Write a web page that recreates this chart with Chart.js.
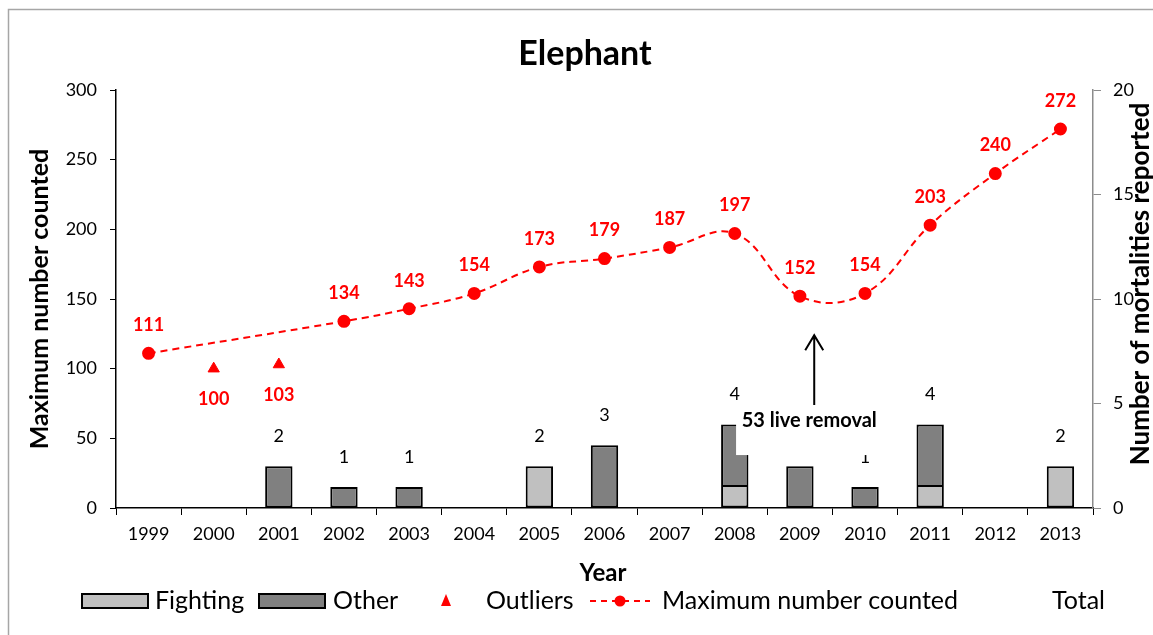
<!DOCTYPE html>
<html>
<head>
<meta charset="utf-8">
<title>Elephant</title>
<script src="https://cdn.jsdelivr.net/npm/chart.js@4.4.1/dist/chart.umd.min.js"></script>
<style>
  html, body { margin: 0; padding: 0; background: #ffffff; }
  #wrap { position: relative; width: 1153px; height: 635px; }
</style>
</head>
<body>
<div id="wrap"><canvas id="chart" width="1153" height="635"></canvas></div>
<script>
// ---- data ----
const years = ['1999','2000','2001','2002','2003','2004','2005','2006','2007','2008','2009','2010','2011','2012','2013'];
const maxCounted = [111, null, null, 134, 143, 154, 173, 179, 187, 197, 152, 154, 203, 240, 272];
const outliers   = [null, 100, 103, null, null, null, null, null, null, null, null, null, null, null, null];
const fighting   = [0, 0, 0, 0, 0, 0, 2, 0, 0, 1, 0, 0, 1, 0, 2];
const other      = [0, 0, 2, 1, 1, 0, 0, 3, 0, 3, 2, 1, 3, 0, 0];
const leftTicks  = [0, 50, 100, 150, 200, 250, 300];
const rightTicks = [0, 5, 10, 15, 20];
const totals = years.map((_, i) => fighting[i] + other[i]);

// ---- look ----
const FONT = 'Lato, "Open Sans", "DejaVu Sans", sans-serif';
const RED = '#ff0000';
const FIGHT_FILL = '#c0c0c0';
const OTHER_FILL = '#808080';

// note placed between 2009 and 2010 (x in category index, y in left-axis units)
const note = {
  text: '53 live removal',
  arrowX: 10.22, arrowTop: 124, arrowBottom: 74,
  boxLeft: 9.02, boxRight: 11.36, boxTop: 74.5, boxBottom: 38,
  textY: 63
};

const L = { plotLeft: 116, plotRight: 1093, plotTop: 90, plotBottom: 508 };

const nz = a => a.map(v => (v ? v : null));

// lower segment drops its top edge when another segment sits on it
const fightBorder = ctx => ({ left: 2, right: 2, bottom: 2, top: other[ctx.dataIndex] ? 0 : 2 });

const overlay = {
  id: 'overlay',
  afterDatasetsDraw(chart) {
    const ctx = chart.ctx;
    const xs = chart.scales.x, ys = chart.scales.y, y1 = chart.scales.y1;
    ctx.save();
    ctx.textAlign = 'center';
    ctx.textBaseline = 'middle';

    // totals above the stacked bars
    ctx.fillStyle = '#000';
    ctx.font = '18px ' + FONT;
    totals.forEach((t, i) => {
      if (!t) return;
      ctx.fillText(String(t), xs.getPixelForValue(i), y1.getPixelForValue(t) - 30);
    });

    // counts on the line
    ctx.fillStyle = RED;
    ctx.font = 'bold 18px ' + FONT;
    maxCounted.forEach((v, i) => {
      if (v == null) return;
      ctx.fillText(String(v), xs.getPixelForValue(i), ys.getPixelForValue(v) - 28);
    });
    outliers.forEach((v, i) => {
      if (v == null) return;
      ctx.fillText(String(v), xs.getPixelForValue(i), ys.getPixelForValue(v) + 31);
    });

    // live-removal note
    const cw = xs.getPixelForValue(1) - xs.getPixelForValue(0);
    const x0 = xs.getPixelForValue(0);
    const ax = x0 + note.arrowX * cw;
    const bl = x0 + note.boxLeft * cw, br = x0 + note.boxRight * cw;
    const bt = ys.getPixelForValue(note.boxTop), bb = ys.getPixelForValue(note.boxBottom);
    ctx.fillStyle = '#ffffff';
    ctx.fillRect(bl, bt, br - bl, bb - bt);
    ctx.fillStyle = '#000';
    ctx.font = 'bold 20px ' + FONT;
    ctx.fillText(note.text, (bl + br) / 2 - 3, ys.getPixelForValue(note.textY));
    const at = ys.getPixelForValue(note.arrowTop), ab = ys.getPixelForValue(note.arrowBottom);
    ctx.strokeStyle = '#000';
    ctx.lineWidth = 2;
    ctx.beginPath();
    ctx.moveTo(ax, ab); ctx.lineTo(ax, at);
    ctx.moveTo(ax - 9, at + 15); ctx.lineTo(ax, at); ctx.lineTo(ax + 9, at + 15);
    ctx.stroke();
    ctx.restore();
  },
  afterDraw(chart) {
    const ctx = chart.ctx;
    ctx.save();
    // frame
    ctx.strokeStyle = '#a6a6a6';
    ctx.lineWidth = 1.5;
    ctx.beginPath();
    ctx.moveTo(8.5, 635); ctx.lineTo(8.5, 9.5); ctx.lineTo(1153, 9.5);
    ctx.stroke();

    ctx.fillStyle = '#000';
    ctx.textAlign = 'center';
    ctx.textBaseline = 'middle';
    // title
    ctx.font = 'bold 34px ' + FONT;
    ctx.fillText('Elephant', 585, 54);
    // axis titles
    ctx.font = 'bold 24px ' + FONT;
    ctx.fillText('Year', 603, 573);
    ctx.font = 'bold 25px ' + FONT;
    ctx.save();
    ctx.translate(40, 299); ctx.rotate(-Math.PI / 2);
    ctx.fillText('Maximum number counted', 0, 0);
    ctx.restore();
    ctx.font = 'bold 26px ' + FONT;
    ctx.save();
    ctx.translate(1141, 284); ctx.rotate(-Math.PI / 2);
    ctx.fillText('Number of mortalities reported', 0, 0);
    ctx.restore();

    // legend
    const ly = 601;
    ctx.textAlign = 'left';
    ctx.font = '25px ' + FONT;
    const box = (x, fill) => {
      ctx.fillStyle = '#000';
      ctx.fillRect(x, ly - 8, 68, 16);
      ctx.fillStyle = fill;
      ctx.fillRect(x + 2, ly - 6, 64, 12);
    };
    box(81, FIGHT_FILL);
    ctx.fillStyle = '#000'; ctx.fillText('Fighting', 155, ly);
    box(258, OTHER_FILL);
    ctx.fillStyle = '#000'; ctx.fillText('Other', 333, ly);
    ctx.fillStyle = RED;
    ctx.beginPath();
    ctx.moveTo(446, ly - 7); ctx.lineTo(451, ly + 5); ctx.lineTo(441, ly + 5); ctx.closePath();
    ctx.fill();
    ctx.fillStyle = '#000'; ctx.fillText('Outliers', 486, ly);
    ctx.strokeStyle = RED; ctx.lineWidth = 2; ctx.setLineDash([6, 5]);
    ctx.beginPath(); ctx.moveTo(590, ly); ctx.lineTo(650, ly); ctx.stroke();
    ctx.setLineDash([]);
    ctx.fillStyle = RED;
    ctx.beginPath(); ctx.arc(620, ly, 5.5, 0, Math.PI * 2); ctx.fill();
    ctx.fillStyle = '#000'; ctx.fillText('Maximum number counted', 662, ly);
    ctx.fillText('Total', 1052, ly);
    ctx.restore();
  }
};

new Chart(document.getElementById('chart'), {
  data: {
    labels: years,
    datasets: [
      {
        type: 'line', label: 'Maximum number counted', data: maxCounted, yAxisID: 'y',
        borderColor: RED, borderWidth: 2, borderDash: [7, 5], tension: 0.4, spanGaps: true,
        pointRadius: 5.5, pointStyle: 'circle', pointBackgroundColor: RED, pointBorderColor: RED,
        order: 0
      },
      {
        type: 'line', label: 'Outliers', data: outliers, yAxisID: 'y', showLine: false,
        pointRadius: 6.5, pointStyle: 'triangle', pointBackgroundColor: RED, pointBorderColor: RED,
        order: 0
      },
      {
        type: 'bar', label: 'Fighting', data: nz(fighting), yAxisID: 'y1', stack: 'deaths',
        backgroundColor: FIGHT_FILL, borderColor: '#000', borderWidth: fightBorder, borderSkipped: false,
        barPercentage: 0.42, categoryPercentage: 1.0, order: 1
      },
      {
        type: 'bar', label: 'Other', data: nz(other), yAxisID: 'y1', stack: 'deaths',
        backgroundColor: OTHER_FILL, borderColor: '#000', borderWidth: 2, borderSkipped: false,
        barPercentage: 0.42, categoryPercentage: 1.0, order: 1
      }
    ]
  },
  options: {
    responsive: false,
    animation: false,
    layout: { padding: { left: 0, right: 0, top: L.plotTop, bottom: 0 } },
    plugins: { legend: { display: false }, title: { display: false }, tooltip: { enabled: false } },
    scales: {
      x: {
        stacked: true, offset: true,
        grid: { display: true, drawOnChartArea: false, drawTicks: true, tickLength: 7, color: '#000', lineWidth: 1, offset: true },
        border: { display: true, color: '#000', width: 1.5 },
        ticks: { color: '#000', font: { family: FONT, size: 18 }, padding: 8, maxRotation: 0, autoSkip: false },
        afterFit(s) { s.height = 635 - L.plotBottom; }
      },
      y: {
        position: 'left', min: 0, max: 300,
        afterBuildTicks(s) { s.ticks = leftTicks.map(v => ({ value: v })); },
        grid: { display: true, drawOnChartArea: false, drawTicks: true, tickLength: 6, color: '#000' },
        border: { display: true, color: '#000', width: 1.5 },
        ticks: { color: '#000', font: { family: FONT, size: 18 }, padding: 13 },
        afterFit(s) { s.width = L.plotLeft; }
      },
      y1: {
        position: 'right', min: 0, max: 20, stacked: true,
        afterBuildTicks(s) { s.ticks = rightTicks.map(v => ({ value: v })); },
        grid: { display: true, drawOnChartArea: false, drawTicks: true, tickLength: 8, color: '#8c8c8c' },
        border: { display: true, color: '#8c8c8c', width: 1.5 },
        ticks: { color: '#000', font: { family: FONT, size: 18 }, padding: 12 },
        afterFit(s) { s.width = 1153 - L.plotRight; }
      }
    }
  },
  plugins: [overlay]
});
</script>
</body>
</html>
